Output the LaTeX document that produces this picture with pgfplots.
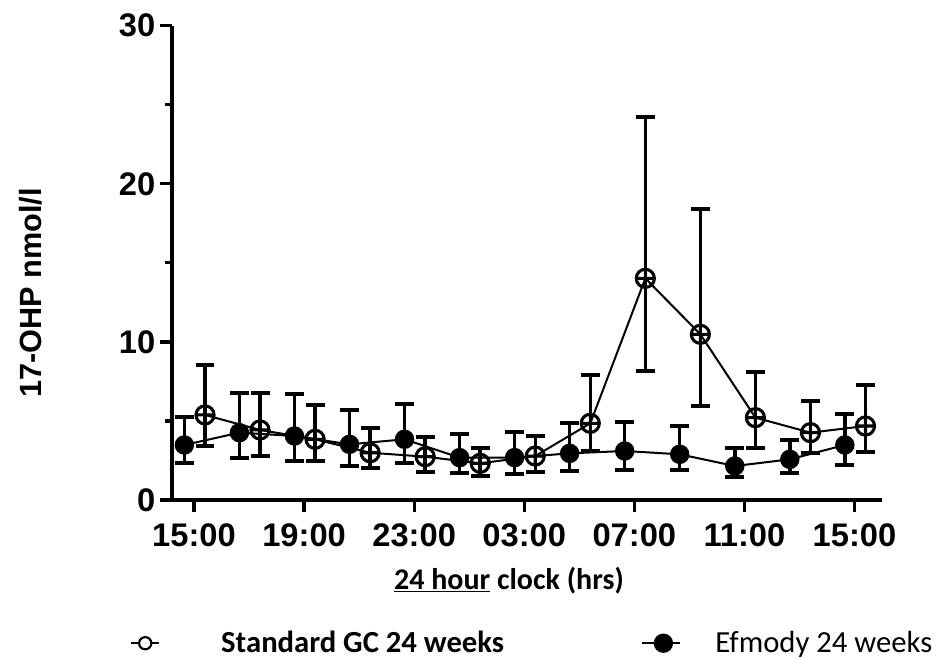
\documentclass[border=0pt]{standalone}
\usepackage{fontspec}
\setmainfont{Liberation Sans}
\newfontfamily\calibri{Carlito}
\usepackage{pgfplots}
\usepackage{pgfplotstable}
\pgfplotsset{compat=1.18}

% hours after 15:00, mean, error up, error down
\pgfplotstableread{
x      y      ep     em
0.4    5.38   3.16   1.96
2.4    4.43   2.32   1.65
4.4    3.84   2.17   1.37
6.4    2.99   1.55   0.95
8.4    2.74   1.23   0.95
10.4   2.32   0.95   0.80
12.4   2.78   1.27   0.99
14.4   4.85   3.06   1.75
16.4   14.02  10.22  5.86
18.4   10.48  7.91   4.53
20.4   5.21   2.91   1.90
22.4   4.26   2.02   1.31
24.4   4.68   2.59   1.62
}\gcdata

\pgfplotstableread{
x      y      ep     em
-0.35  3.48   1.79   1.14
1.65   4.26   2.49   1.62
3.65   4.05   2.64   1.58
5.65   3.52   2.17   1.37
7.65   3.84   2.21   1.52
9.65   2.68   1.49   0.99
11.65  2.68   1.64   1.05
13.65  2.95   1.90   1.10
15.65  3.10   1.85   1.20
17.65  2.89   1.79   0.99
19.65  2.15   1.12   0.68
21.65  2.57   1.23   0.88
23.65  3.48   1.96   1.27
}\efdata

\begin{document}
\begin{tikzpicture}
\useasboundingbox (0,0) rectangle (706.5pt,494.25pt);
\begin{axis}[
  at={(129pt,119.25pt)}, anchor=south west,
  scale only axis, width=532.5pt, height=355.7pt,
  xmin=-0.8, xmax=25, ymin=0, ymax=30,
  axis x line*=bottom, axis y line*=left,
  axis line style={line width=2.4pt, -},
  xtick={0,4,8,12,16,20,24},
  xticklabels={15:00,19:00,23:00,03:00,07:00,11:00,15:00},
  ytick={0,10,20,30}, minor ytick={5,15,25},
  tick align=outside, major tick length=9pt, minor tick length=5.25pt,
  tick style={line width=2.4pt, black},
  ticklabel style={font=\bfseries\fontsize{24.5}{27}\selectfont},
  xticklabel style={yshift=-5pt},
  /pgf/number format/assume math mode=true,
  xlabel={\calibri\bfseries\underline{24 hour} clock (hrs)},
  xlabel style={at={(axis description cs:0.4746,-0.1877)}, anchor=base,
    font=\fontsize{22.5}{26}\selectfont},
  ylabel={\bfseries 17-OHP nmol/l},
  ylabel style={at={(axis description cs:-0.1985,0.4365)}, anchor=center,
    font=\fontsize{23}{26}\selectfont},
  clip=false,
  legend columns=2,
  legend style={draw=none, fill=none, inner sep=0pt,
    at={(axis description cs:-0.0592,-0.302)}, anchor=west,
    font=\calibri\fontsize{23}{26}\selectfont,
    nodes={inner sep=0pt},
    cells={anchor=west},
    /tikz/every even column/.append style={column sep=103pt}},
]
\addplot[black, line width=1.5pt, mark=oplus, mark size=6.8pt,
  mark options={line width=2.3pt, solid},
  error bars/.cd, y dir=both, y explicit,
  error bar style={line width=2.6pt},
  error mark options={rotate=90, line width=3pt, mark size=7.1pt},
  /pgfplots/legend image code/.code={
    \draw[line width=1.5pt] (0pt,0pt) -- (21pt,0pt);
    \draw[line width=1.6pt, fill=white] (10.5pt,0pt) circle (4.6pt);
    \path[draw=none] (0pt,0pt) -- (67.5pt,0pt);}]
  table[x=x, y=y, y error plus=ep, y error minus=em] {\gcdata};
\addlegendentry{\bfseries Standard GC 24 weeks}
\addplot[black, line width=1.5pt, mark=*, mark size=6.8pt,
  mark options={line width=1pt, fill=black, solid},
  error bars/.cd, y dir=both, y explicit,
  error bar style={line width=2.6pt},
  error mark options={rotate=90, line width=3pt, mark size=7.1pt},
  /pgfplots/legend image code/.code={
    \draw[line width=1.5pt] (0pt,0pt) -- (28.5pt,0pt);
    \fill (15.75pt,0pt) circle (6.5pt);
    \path[draw=none] (0pt,0pt) -- (54.75pt,0pt);}]
  table[x=x, y=y, y error plus=ep, y error minus=em] {\efdata};
\addlegendentry{Efmody 24 weeks}
\end{axis}
\end{tikzpicture}
\end{document}
